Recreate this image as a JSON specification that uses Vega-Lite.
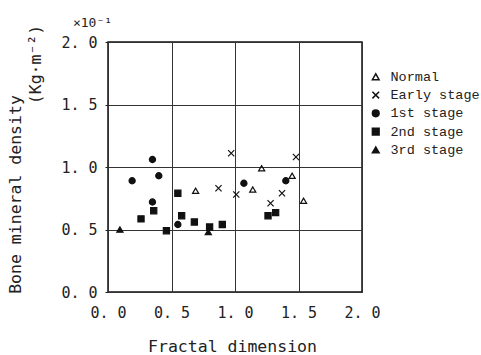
{
  "$schema": "https://vega.github.io/schema/vega-lite/v6.json",
  "autosize": "none",
  "padding": {"left": 108, "top": 42, "right": 119, "bottom": 63},
  "width": 254,
  "height": 250,
  "background": "white",
  "config": {
    "view": {"stroke": "#111", "strokeWidth": 1.5},
    "axis": {"labelFont": "DejaVu Sans Mono", "titleFont": "DejaVu Sans Mono", "labelColor": "#222", "titleColor": "#222", "titleFontWeight": "normal", "gridColor": "#333", "gridWidth": 1, "gridOpacity": 1, "domain": false}
  },
  "data": {"values": [
    {"group": "Normal", "fd": 0.69, "bmd": 0.81},
    {"group": "Normal", "fd": 1.21, "bmd": 0.99},
    {"group": "Normal", "fd": 1.45, "bmd": 0.93},
    {"group": "Normal", "fd": 1.14, "bmd": 0.82},
    {"group": "Normal", "fd": 1.54, "bmd": 0.73},
    {"group": "Early stage", "fd": 0.87, "bmd": 0.83},
    {"group": "Early stage", "fd": 0.97, "bmd": 1.11},
    {"group": "Early stage", "fd": 1.01, "bmd": 0.78},
    {"group": "Early stage", "fd": 1.48, "bmd": 1.08},
    {"group": "Early stage", "fd": 1.37, "bmd": 0.79},
    {"group": "Early stage", "fd": 1.28, "bmd": 0.71},
    {"group": "1st stage", "fd": 0.19, "bmd": 0.89},
    {"group": "1st stage", "fd": 0.35, "bmd": 1.06},
    {"group": "1st stage", "fd": 0.40, "bmd": 0.93},
    {"group": "1st stage", "fd": 0.35, "bmd": 0.72},
    {"group": "1st stage", "fd": 0.55, "bmd": 0.54},
    {"group": "1st stage", "fd": 1.07, "bmd": 0.87},
    {"group": "1st stage", "fd": 1.40, "bmd": 0.89},
    {"group": "2nd stage", "fd": 0.36, "bmd": 0.65},
    {"group": "2nd stage", "fd": 0.26, "bmd": 0.585},
    {"group": "2nd stage", "fd": 0.46, "bmd": 0.49},
    {"group": "2nd stage", "fd": 0.55, "bmd": 0.79},
    {"group": "2nd stage", "fd": 0.58, "bmd": 0.61},
    {"group": "2nd stage", "fd": 0.68, "bmd": 0.56},
    {"group": "2nd stage", "fd": 0.80, "bmd": 0.52},
    {"group": "2nd stage", "fd": 0.90, "bmd": 0.54},
    {"group": "2nd stage", "fd": 1.26, "bmd": 0.61},
    {"group": "2nd stage", "fd": 1.32, "bmd": 0.635},
    {"group": "3rd stage", "fd": 0.094, "bmd": 0.50},
    {"group": "3rd stage", "fd": 0.79, "bmd": 0.48}
  ]},
  "resolve": {"axis": {"y": "independent"}},
  "layer": [
    {
      "mark": {"type": "point", "stroke": "#111", "strokeWidth": 1.2, "opacity": 1, "size": 38},
      "encoding": {
        "x": {"field": "fd", "type": "quantitative", "scale": {"domain": [0, 2], "nice": false, "zero": false},
          "axis": {"values": [0, 0.5, 1, 1.5, 2], "labelExpr": "replace(format(datum.value, '.1f'), '.', '. ')", "labelFontSize": 15, "labelPadding": 13, "ticks": false, "labelFlush": false,
            "title": "Fractal dimension", "titleFontSize": 16.5, "titleX": 124, "titleY": 54, "titleBaseline": "middle", "titleAnchor": "middle"}},
        "y": {"field": "bmd", "type": "quantitative", "scale": {"domain": [0, 2], "nice": false, "zero": false},
          "axis": {"orient": "left", "values": [0, 0.5, 1, 1.5, 2], "labelExpr": "replace(format(datum.value, '.1f'), '.', '. ')", "labelFontSize": 15, "labelPadding": 8, "tickSize": 3, "tickColor": "#222", "labelFlush": false,
            "title": "(Kg·m⁻²)", "titleFontSize": 16.5, "titleX": -73, "titleY": 22, "titleAngle": -90, "titleAlign": "center", "titleBaseline": "middle"}},
        "shape": {"field": "group", "type": "nominal",
          "scale": {"domain": ["Normal", "Early stage", "1st stage", "2nd stage", "3rd stage"], "range": ["triangle-up", "M-1,-1L1,1M-1,1L1,-1", "circle", "square", "triangle-up"]},
          "legend": {"title": null, "orient": "none", "legendX": 261, "legendY": 28, "padding": 0, "rowPadding": 3.3, "labelFont": "Liberation Mono", "labelFontSize": 13.5, "labelColor": "#222", "symbolSize": 45, "labelOffset": 8,
            "encode": {"symbols": {"update": {"stroke": {"value": "#111"}, "strokeWidth": {"value": 1.2}}}}}},
        "fill": {"field": "group", "type": "nominal",
          "scale": {"domain": ["Normal", "Early stage", "1st stage", "2nd stage", "3rd stage"], "range": ["transparent", "transparent", "#111", "#111", "#111"]},
          "legend": {"title": null, "orient": "none", "legendX": 261, "legendY": 28, "padding": 0, "rowPadding": 3.3, "labelFont": "Liberation Mono", "labelFontSize": 13.5, "labelColor": "#222", "symbolSize": 45, "labelOffset": 8,
            "encode": {"symbols": {"update": {"stroke": {"value": "#111"}, "strokeWidth": {"value": 1.2}}}}}}
      }
    },
    {
      "mark": {"type": "point", "opacity": 0},
      "encoding": {
        "y": {"field": "bmd", "type": "quantitative",
          "axis": {"orient": "left", "values": [], "grid": false, "labels": false, "ticks": false, "domain": false,
            "title": "Bone mineral density", "titleFontSize": 16.5, "titleX": -93, "titleY": 152, "titleAngle": -90, "titleAlign": "center", "titleBaseline": "middle"}}
      }
    },
    {
      "mark": {"type": "point", "opacity": 0},
      "encoding": {
        "y": {"field": "bmd", "type": "quantitative",
          "axis": {"orient": "left", "values": [], "grid": false, "labels": false, "ticks": false, "domain": false,
            "title": "×10⁻¹", "titleFontSize": 13, "titleX": -16, "titleY": -20, "titleAngle": 0, "titleAlign": "center", "titleBaseline": "middle"}}
      }
    }
  ]
}
